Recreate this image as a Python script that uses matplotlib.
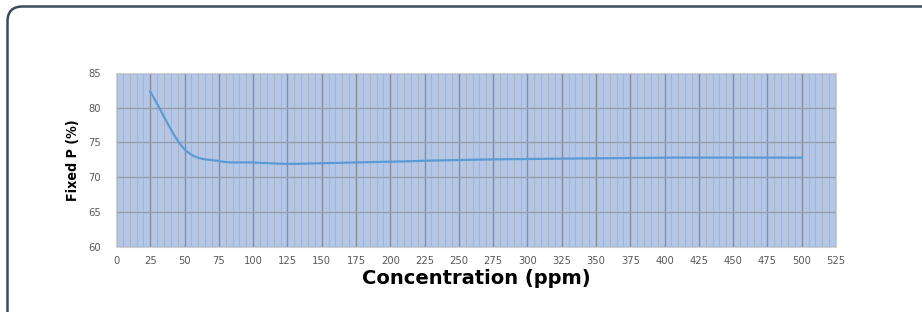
import numpy as np
import matplotlib
matplotlib.use('Agg')
import matplotlib.pyplot as plt
from matplotlib.patches import FancyBboxPatch

# 데이터
conc = [25, 50, 75, 100, 125, 150, 175, 200, 225, 250, 275, 300,
        325, 350, 375, 400, 425, 450, 475, 500]
fixed_p = [82.3, 74.0, 72.3, 72.1, 71.9, 72.0, 72.1, 72.2, 72.35, 72.45,
           72.55, 72.6, 72.65, 72.7, 72.75, 72.8, 72.8, 72.8, 72.8, 72.8]
x_ticks = list(range(0, 526, 25))
y_ticks = [60, 65, 70, 75, 80, 85]


def smooth(xs, ys, n=20):
    # 엑셀식 부드러운 선 (Catmull-Rom)
    xs = np.asarray(xs, float)
    ys = np.asarray(ys, float)
    px = np.concatenate([[2 * xs[0] - xs[1]], xs, [2 * xs[-1] - xs[-2]]])
    py = np.concatenate([[2 * ys[0] - ys[1]], ys, [2 * ys[-1] - ys[-2]]])
    ox, oy = [], []
    t = np.linspace(0, 1, n, endpoint=False)
    for i in range(1, len(px) - 2):
        for p, o in ((px, ox), (py, oy)):
            p0, p1, p2, p3 = p[i - 1], p[i], p[i + 1], p[i + 2]
            o.extend(0.5 * (2 * p1 + (-p0 + p2) * t
                            + (2 * p0 - 5 * p1 + 4 * p2 - p3) * t ** 2
                            + (-p0 + 3 * p1 - 3 * p2 + p3) * t ** 3))
    ox.append(xs[-1])
    oy.append(ys[-1])
    return ox, oy


fig = plt.figure(figsize=(9.22, 3.12), dpi=100)

# 둥근 테두리 (인치 단위)
border = FancyBboxPatch((0.075, -1.0), 10.0, 1.0 + 3.12 - 0.065,
                        boxstyle='round,pad=0,rounding_size=0.15',
                        transform=fig.dpi_scale_trans, fill=False,
                        edgecolor='#3b4a5e', linewidth=1.8)
fig.patches.append(border)

ax = fig.add_axes([116 / 922, 1 - 246.7 / 312, 720 / 922, 174 / 312])
ax.set_facecolor('#b4c7e7')

xs, ys = smooth(conc, fixed_p)
ax.plot(xs, ys, color='#5b9bd5', linewidth=1.6, zorder=3)

ax.set_xlim(0, 525)
ax.set_ylim(60, 85)
ax.set_xticks(x_ticks)
ax.set_xticks(range(0, 526, 5), minor=True)
ax.set_yticks(y_ticks)

ax.grid(which='minor', axis='x', color='#abb5c8', linewidth=0.8)
ax.grid(which='major', axis='x', color='#868e9c', linewidth=1.0)
ax.grid(which='major', axis='y', color='#979fae', linewidth=1.0)
ax.set_axisbelow(True)

ax.tick_params(which='both', length=0)
ax.tick_params(axis='x', pad=7, labelsize=7.2, labelcolor='#595959')
ax.tick_params(axis='y', pad=11, labelsize=7.2, labelcolor='#595959')
for s in ax.spines.values():
    s.set_color('#d0d0d0')
    s.set_linewidth(0.8)

ax.set_xlabel('Concentration (ppm)', fontsize=14, fontweight='bold',
              labelpad=2)
ax.set_ylabel('Fixed P (%)', fontsize=10.2, fontweight='bold',
              fontstretch='condensed', labelpad=6)

plt.savefig('out.png', dpi=100)
